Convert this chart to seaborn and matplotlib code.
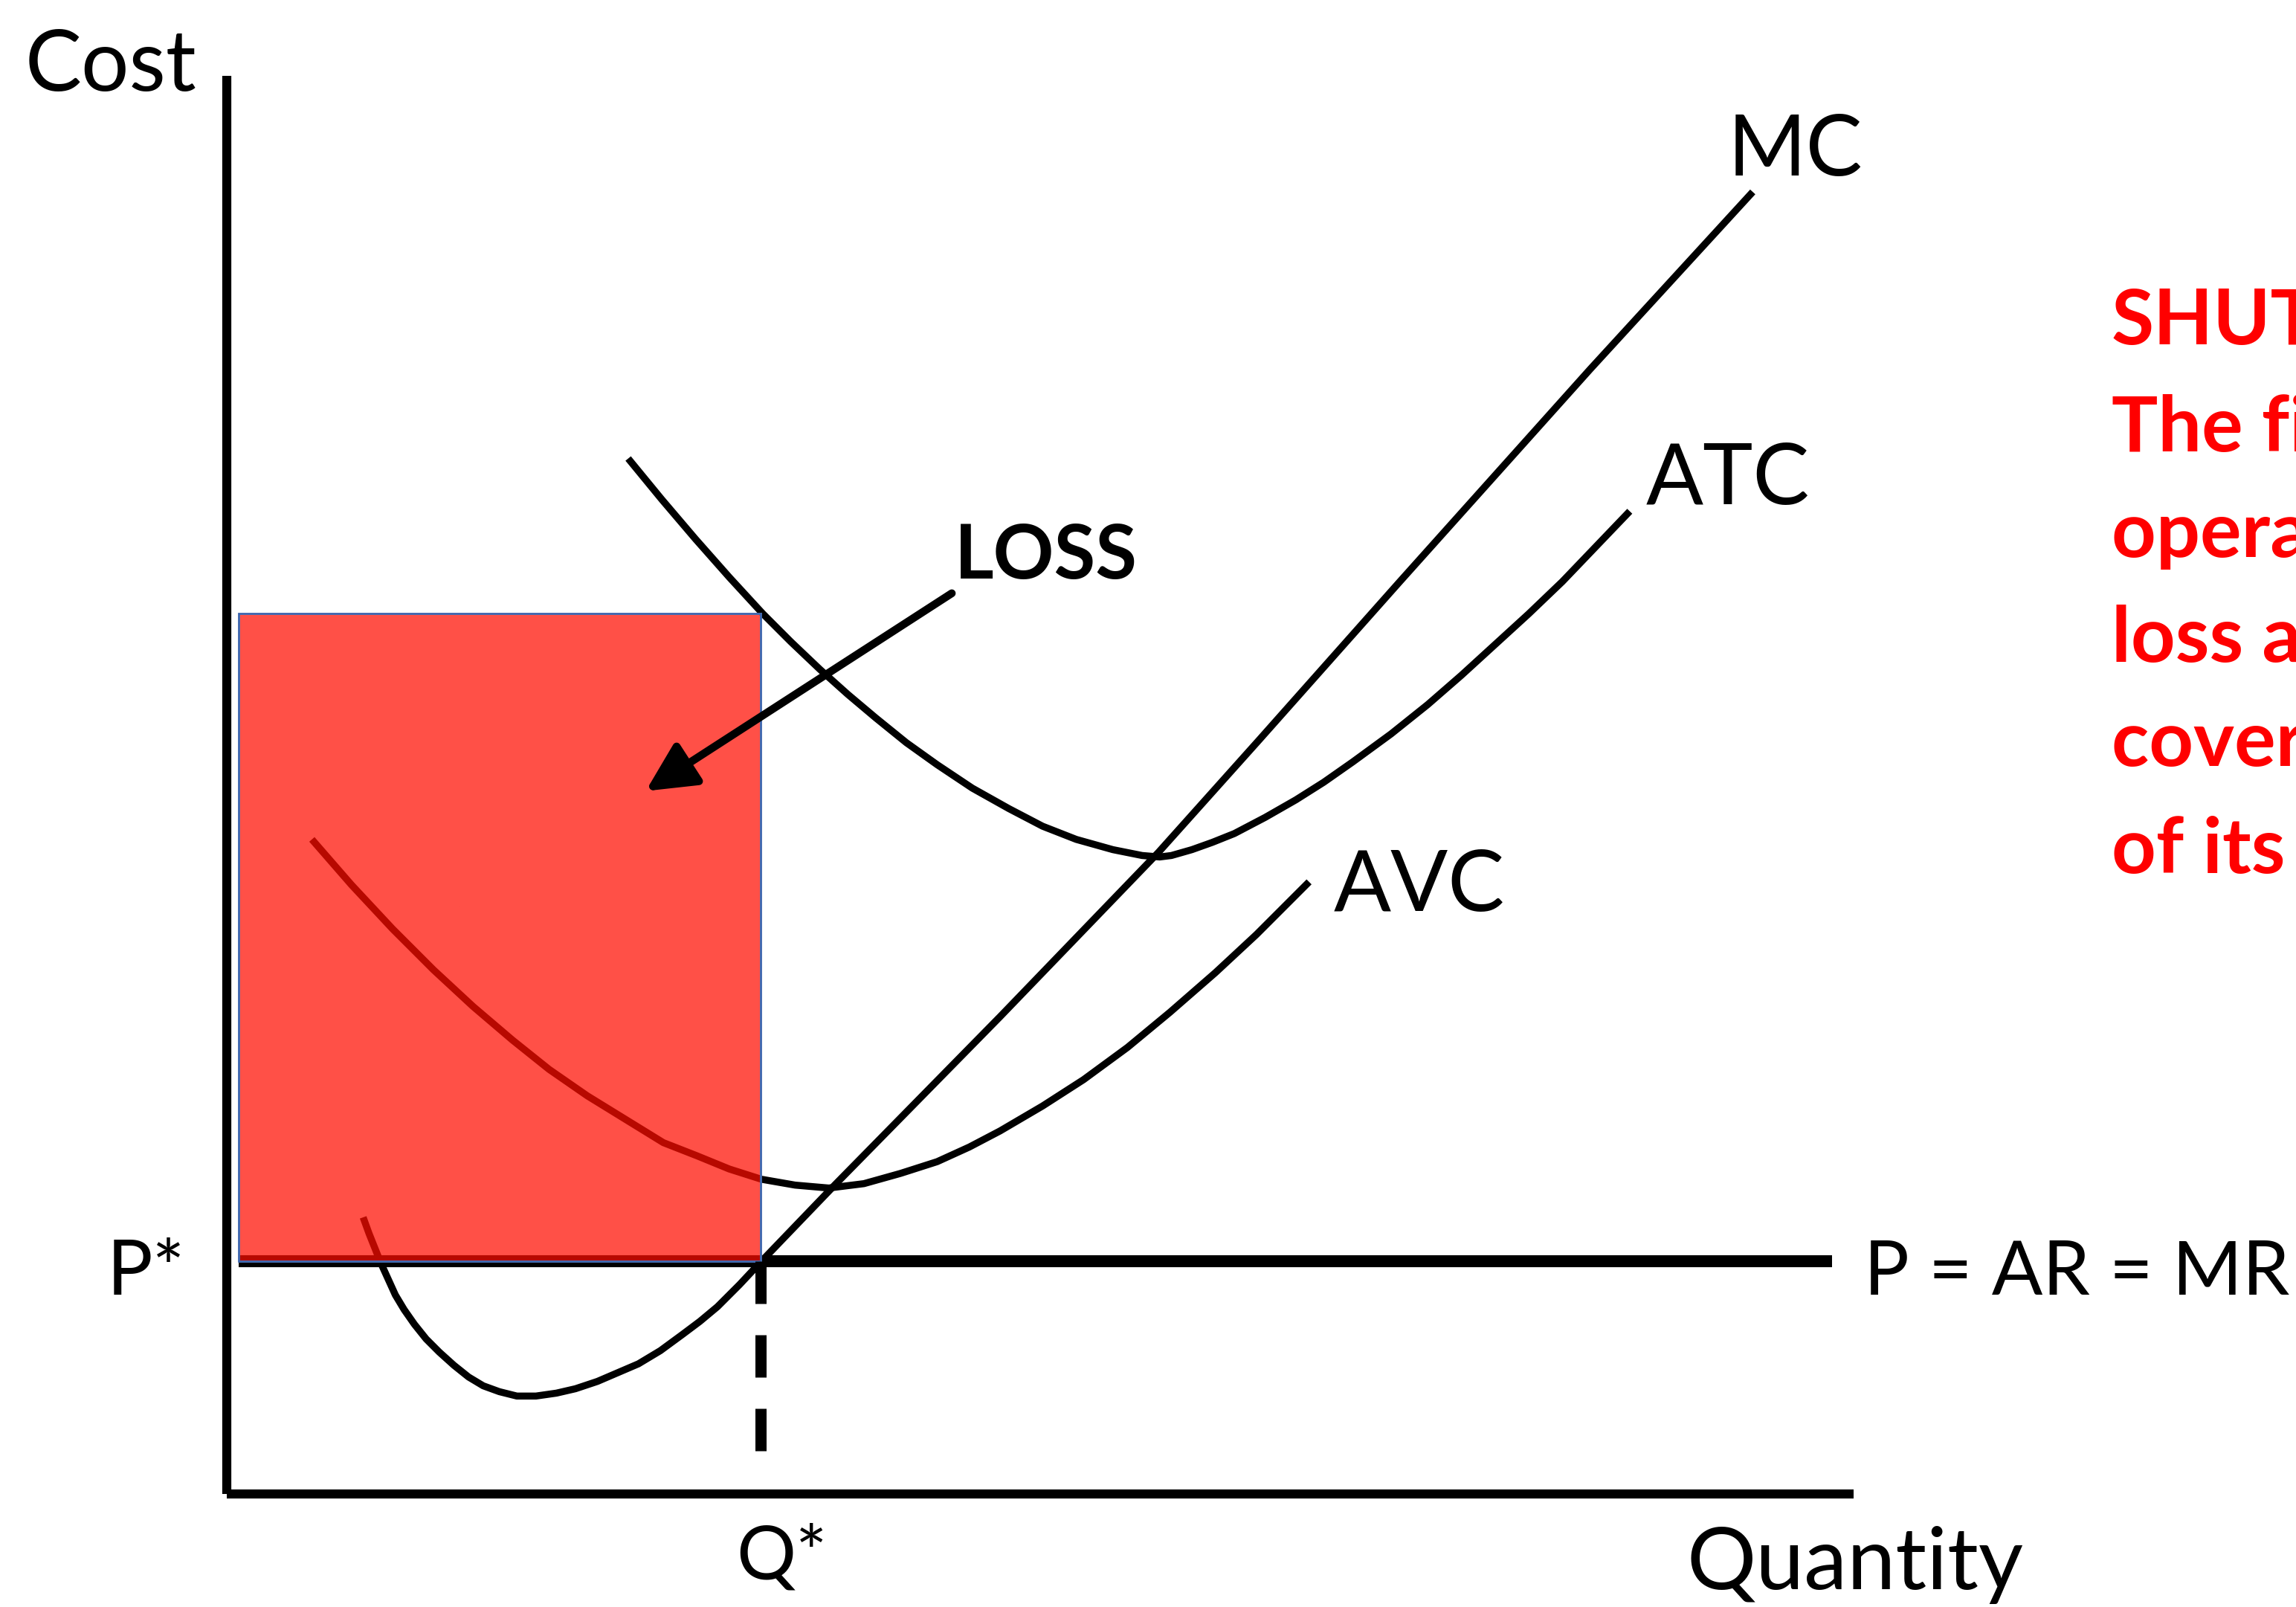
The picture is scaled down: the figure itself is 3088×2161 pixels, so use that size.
import numpy as np
import pandas as pd
import matplotlib
matplotlib.use("Agg")
import matplotlib.pyplot as plt
from matplotlib.patches import Rectangle
import seaborn as sns

# Curves (quantity, cost), axis corner at (0, 0)
mc_q = [0.93, 0.97, 1.01, 1.05, 1.10, 1.15, 1.21, 1.28, 1.36, 1.45, 1.55, 1.65, 1.75, 1.86, 1.98,
        2.11, 2.25, 2.38, 2.53, 2.67, 2.81, 2.96, 3.11, 3.23, 3.35, 3.50, 3.65, 3.90, 4.15,
        5.28, 6.36, 7.05, 8.01, 9.31, 10.42]
mc_c = [1.89, 1.78, 1.68, 1.58, 1.47, 1.36, 1.26, 1.16, 1.06, 0.97, 0.88, 0.80, 0.74, 0.70, 0.67,
        0.67, 0.69, 0.72, 0.77, 0.83, 0.89, 0.98, 1.09, 1.18, 1.28, 1.43, 1.59, 1.85, 2.11,
        3.26, 4.38, 5.15, 6.23, 7.68, 8.89]

atc_q = [2.74, 2.97, 3.20, 3.43, 3.66, 3.85, 4.05, 4.24, 4.43, 4.64, 4.85, 5.09, 5.34, 5.57, 5.80,
         6.05, 6.25, 6.37, 6.45, 6.59, 6.73, 6.88, 7.09, 7.30, 7.49, 7.69, 7.95, 8.20, 8.43,
         8.66, 8.89, 9.12, 9.35, 9.58]
atc_c = [7.07, 6.79, 6.52, 6.26, 6.01, 5.82, 5.63, 5.46, 5.30, 5.13, 4.98, 4.82, 4.68, 4.56, 4.47,
         4.40, 4.36, 4.35, 4.36, 4.40, 4.45, 4.51, 4.62, 4.74, 4.86, 5.00, 5.19, 5.39, 5.59,
         5.80, 6.01, 6.23, 6.47, 6.71]

avc_q = [0.58, 0.85, 1.13, 1.41, 1.68, 1.95, 2.20, 2.46, 2.72, 2.98, 3.21, 3.43, 3.65, 3.88, 4.11,
         4.35, 4.60, 4.85, 5.07, 5.28, 5.57, 5.85, 6.15, 6.44, 6.75, 7.03, 7.21, 7.39]
avc_c = [4.47, 4.16, 3.86, 3.58, 3.33, 3.10, 2.90, 2.72, 2.56, 2.40, 2.31, 2.22, 2.15, 2.11, 2.09,
         2.12, 2.19, 2.27, 2.37, 2.48, 2.65, 2.83, 3.05, 3.29, 3.56, 3.82, 4.00, 4.18]

# key levels
p_star = 1.59
q_star = 3.645
atc_at_q = 6.01
loss_left = 0.08
mr_end = 10.96
y_axis_top = 9.68
x_axis_end = 11.11
dash_bottom = 0.25

note_lines = ["SHUTDOWN", "The firm should", "operate at a", "loss and not", "cover all", "of its costs"]

curves = pd.concat([
    pd.DataFrame({"q": mc_q, "cost": mc_c, "curve": "MC"}),
    pd.DataFrame({"q": atc_q, "cost": atc_c, "curve": "ATC"}),
    pd.DataFrame({"q": avc_q, "cost": avc_c, "curve": "AVC"}),
])

sns.set_style("white")
plt.rcParams["font.family"] = ["Lato", "DejaVu Sans"]

fig = plt.figure(figsize=(15.44, 10.805), dpi=200)
ax = fig.add_axes([0, 0, 1, 1])
ax.set_xlim(-1.55, 14.13)
ax.set_ylim(-0.77, 10.20)
ax.set_axis_off()

# P = AR = MR line (drawn under the loss box)
ax.plot([loss_left, mr_end], [p_star, p_star], color="black", lw=5.8,
        solid_capstyle="butt", zorder=2)

# cost curves
sns.lineplot(data=curves, x="q", y="cost", units="curve", estimator=None,
             sort=False, color="black", lw=3.4, ax=ax, zorder=2)
for ln in ax.lines:
    ln.set_solid_capstyle("butt")
    ln.set_solid_joinstyle("round")

# loss area
ax.add_patch(Rectangle((loss_left, p_star), q_star - loss_left, atc_at_q - p_star,
                       facecolor=(1.0, 0.05, 0.0), alpha=0.72, zorder=3))
ax.add_patch(Rectangle((loss_left, p_star), q_star - loss_left, atc_at_q - p_star,
                       facecolor="none", edgecolor="#3B64AD", lw=1.0, zorder=3.1))

# axes
ax.plot([0, 0], [0, y_axis_top], color="black", lw=4.4, solid_capstyle="butt", zorder=4)
ax.plot([0, x_axis_end], [0, 0], color="black", lw=4.4, solid_capstyle="butt", zorder=4)

# Q* dashed drop line
ax.plot([q_star, q_star], [p_star, dash_bottom], color="black", lw=5.4,
        linestyle=(0, (3.8, 2.8)), zorder=4)

# arrow pointing at the loss box
ax.annotate("", xy=(2.86, 4.80), xytext=(4.95, 6.15),
            arrowprops=dict(arrowstyle="-|>,head_length=0.8,head_width=0.4",
                            mutation_scale=25, lw=3.8, color="black",
                            shrinkA=0, shrinkB=0), zorder=5)

# labels
lab = dict(color="black", ha="left", va="baseline", zorder=6)
ax.text(-1.38, 9.58, "Cost", fontsize=41, **lab)
ax.text(9.97, -0.65, "Quantity", fontsize=42, **lab)
ax.text(10.25, 9.00, "MC", fontsize=41, **lab)
ax.text(9.69, 6.76, "ATC", fontsize=41, **lab)
ax.text(7.56, 3.98, "AVC", fontsize=41, **lab)
ax.text(11.18, 1.36, "P = AR = MR", fontsize=36.5, **lab)
ax.text(-0.82, 1.36, "P*", fontsize=37, **lab)
ax.text(3.48, -0.58, "Q*", fontsize=36, **lab)
ax.text(4.97, 6.25, "LOSS", fontsize=36.5, fontweight="bold", **lab)

note_base = [7.85, 7.12, 6.40, 5.68, 4.97, 4.24]
for line, yb in zip(note_lines, note_base):
    ax.text(12.87, yb, line, fontsize=37.5, fontweight="bold", color="#FF0000",
            ha="left", va="baseline", zorder=6)

plt.savefig("out.png", dpi=200)
